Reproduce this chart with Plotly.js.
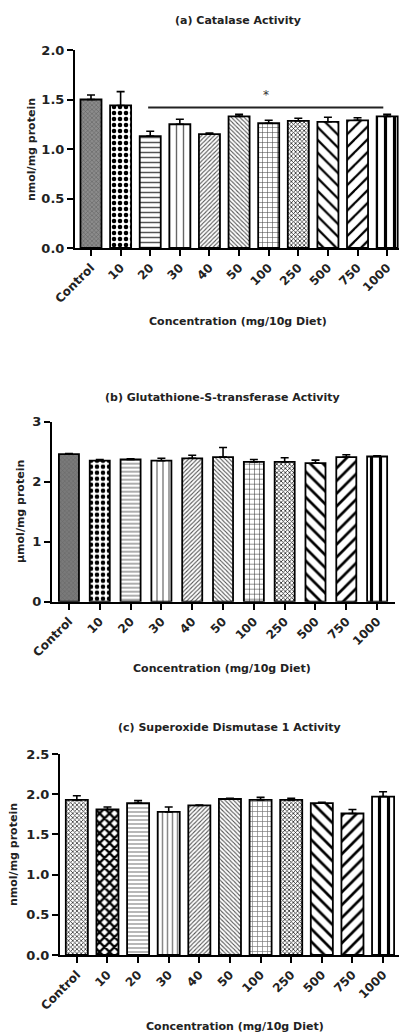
<!DOCTYPE html>
<html>
<head>
<meta charset="utf-8">
<script src="https://cdn.plot.ly/plotly-3.0.1.min.js"></script>
<style>html,body{margin:0;padding:0;background:#fff;}#chart{width:399px;height:1034px;}</style>
</head>
<body>
<div id="chart"></div>
<script>
// ---- data ----
const categories = ["Control","10","20","30","40","50","100","250","500","750","1000"];

const catalaseMean = [1.50, 1.44, 1.13, 1.25, 1.15, 1.33, 1.26, 1.285, 1.275, 1.29, 1.33];
const catalaseErr  = [0.045, 0.14, 0.05, 0.05, 0.012, 0.02, 0.03, 0.025, 0.045, 0.025, 0.02];

const gstMean = [2.46, 2.35, 2.37, 2.35, 2.39, 2.41, 2.33, 2.33, 2.31, 2.41, 2.42];
const gstErr  = [0.01, 0.02, 0.01, 0.04, 0.05, 0.16, 0.04, 0.07, 0.05, 0.04, 0.01];

const sodMean = [1.93, 1.81, 1.89, 1.78, 1.86, 1.94, 1.93, 1.93, 1.89, 1.76, 1.97];
const sodErr  = [0.05, 0.03, 0.03, 0.06, 0.005, 0.01, 0.03, 0.02, 0.01, 0.05, 0.06];

const panelTitles = ["(a) Catalase Activity", "(b) Glutathione-S-transferase Activity", "(c) Superoxide Dismutase 1 Activity"];
const yTitles = ["nmol/mg protein", "µmol/mg protein", "nmol/mg protein"];
const xTitle = "Concentration (mg/10g Diet)";
const sigBar = {from: "20", to: "1000", level: 1.42, label: "*"};

// ---- styles ----
const FONT = "DejaVu Sans, Arial, sans-serif";
const patA = {
  shape:   ["x", ".", "-", "|", "/", "\\", "+", "x", "\\", "/", "|"],
  bgcolor: ["#8c8c8c","#fff","#fff","#fff","#fff","#fff","#fff","#fff","#fff","#fff","#fff"],
  fgcolor: ["#5a5a5a","#000","#555","#666","#555","#555","#444","#222","#000","#000","#000"],
  size:    [3, 6, 5, 7, 3, 3, 5, 3, 9, 9, 9],
  solidity:[0.3, 0.45, 0.3, 0.2, 0.35, 0.35, 0.2, 0.45, 0.25, 0.25, 0.35],
  fillmode: "replace"
};
const patB = {
  shape:   ["x", ".", "-", "|", "/", "\\", "+", "x", "\\", "/", "|"],
  bgcolor: ["#7a7a7a","#fff","#fff","#fff","#fff","#fff","#fff","#fff","#fff","#fff","#fff"],
  fgcolor: ["#666","#000","#777","#666","#555","#555","#333","#222","#000","#000","#000"],
  size:    [3, 6, 4, 6, 3, 3, 5, 3, 9, 9, 9],
  solidity:[0.3, 0.45, 0.3, 0.2, 0.35, 0.35, 0.2, 0.45, 0.3, 0.3, 0.35],
  fillmode: "replace"
};
const patC = {
  shape:   ["x", "x", "-", "|", "/", "\\", "+", "x", "\\", "/", "|"],
  bgcolor: ["#fff","#fff","#fff","#fff","#fff","#fff","#fff","#fff","#fff","#fff","#fff"],
  fgcolor: ["#333","#000","#888","#888","#555","#555","#777","#222","#000","#000","#000"],
  size:    [3, 7, 4, 5, 3, 3, 5, 3, 9, 9, 9],
  solidity:[0.45, 0.55, 0.3, 0.3, 0.35, 0.35, 0.25, 0.45, 0.3, 0.3, 0.35],
  fillmode: "replace"
};

function barTrace(means, errs, pat, xa, ya, w) {
  return {
    type: "bar", x: categories, y: means, xaxis: xa, yaxis: ya, width: w,
    marker: {color: "#fff", line: {color: "#000", width: 1.8}, pattern: pat},
    error_y: {type: "data", symmetric: false, array: errs, arrayminus: errs.map(() => 0),
              color: "#000", thickness: 1.6, width: 4},
    showlegend: false, hoverinfo: "skip"
  };
}

const data = [
  barTrace(catalaseMean, catalaseErr, patA, "x", "y", 0.71),
  barTrace(gstMean, gstErr, patB, "x2", "y2", 0.65),
  barTrace(sodMean, sodErr, patC, "x3", "y3", 0.72)
];

const W = 399, H = 1034;
const px = v => v / W;
const py = v => 1 - v / H;

function xAxis(domain, range, anchor) {
  return {domain, range, anchor, type: "category", showline: true, linecolor: "#000", linewidth: 2,
    ticks: "outside", ticklen: 6, tickwidth: 2, tickcolor: "#000", tickangle: -45,
    tickfont: {family: FONT, size: 12, color: "#222", weight: "bold"}, showgrid: false, zeroline: false, fixedrange: true};
}
function yAxis(domain, range, dtick, anchor, fmt) {
  return {domain, range, anchor, showline: true, linecolor: "#000", linewidth: 2,
    ticks: "outside", ticklen: 6, tickwidth: 2, tickcolor: "#000", dtick, tick0: 0, tickformat: fmt,
    tickfont: {family: FONT, size: 13, color: "#222", weight: "bold"}, showgrid: false, zeroline: false, fixedrange: true};
}

const iFrom = categories.indexOf(sigBar.from), iTo = categories.indexOf(sigBar.to);

function ann(text, x, y, size, angle) {
  return {text: "<b>" + text + "</b>", x, y, xref: "paper", yref: "paper", showarrow: false,
    xanchor: "center", yanchor: "middle", textangle: angle || 0,
    font: {family: FONT, size, color: "#222"}};
}

const layout = {
  width: W, height: H,
  margin: {l: 0, r: 0, t: 0, b: 0},
  paper_bgcolor: "#fff", plot_bgcolor: "#fff",
  xaxis:  xAxis([px(75), 1], [-0.54, 10.4], "y"),
  yaxis:  yAxis([py(248), py(50)], [0, 2.0], 0.5, "x", ".1f"),
  xaxis2: xAxis([px(52), px(395)], [-0.55, 10.58], "y2"),
  yaxis2: yAxis([py(601.7), py(421.7)], [0, 3], 1, "x2", "d"),
  xaxis3: xAxis([px(60), 1], [-0.55, 10.52], "y3"),
  yaxis3: yAxis([py(955), py(754)], [0, 2.5], 0.5, "x3", ".1f"),
  shapes: [
    {type: "line", xref: "x", yref: "y", x0: iFrom - 0.07, x1: iTo - 0.13, y0: sigBar.level, y1: sigBar.level,
     line: {color: "#222", width: 2}}
  ],
  annotations: [
    ann(panelTitles[0], px(238), py(21), 11),
    ann(panelTitles[1], px(222), py(397), 11),
    ann(panelTitles[2], px(229), py(727), 11),
    ann(xTitle, px(238), py(322), 11),
    ann(xTitle, px(222), py(668), 11),
    ann(xTitle, px(235), py(1026), 11),
    ann(yTitles[0], px(31), py(150), 11, -90),
    ann(yTitles[1], px(21), py(512), 11, -90),
    ann(yTitles[2], px(13), py(855), 11, -90),
    {text: sigBar.label, x: (iFrom + iTo) / 2 - 0.1, y: sigBar.level + 0.03, xref: "x", yref: "y",
     showarrow: false, yanchor: "bottom", font: {family: FONT, size: 12, color: "#333"}}
  ]
};

Plotly.newPlot("chart", data, layout, {staticPlot: true, displayModeBar: false});
</script>
</body>
</html>
